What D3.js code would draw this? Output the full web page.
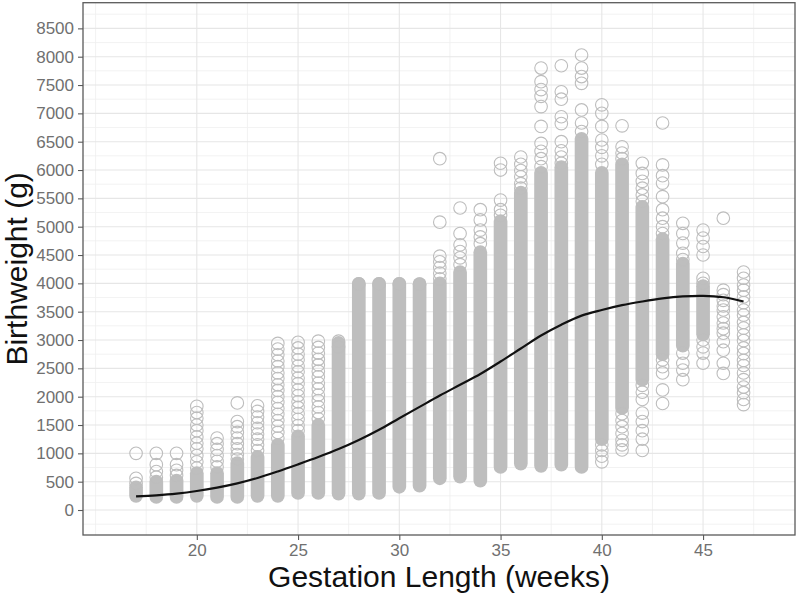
<!DOCTYPE html>
<html>
<head>
<meta charset="utf-8">
<script src="https://cdn.jsdelivr.net/npm/d3@7"></script>
<style>
    body { margin: 0; background: #fff; }
    svg { display: block; font-family: "Liberation Sans", Arial, sans-serif; }
</style>
</head>
<body>
<div id="chart"></div>
<script>
/* global d3 */

// gestation weeks on the x axis
var weeks = [17, 18, 19, 20, 21, 22, 23, 24, 25, 26, 27, 28, 29, 30, 31, 32,
    33, 34, 35, 36, 37, 38, 39, 40, 41, 42, 43, 44, 45, 46, 47];

// dense part of each column (so many points that the circles merge), grams
var bandLow = [250, 230, 230, 250, 230, 230, 250, 250, 300, 300, 290, 290, 300, 410, 430, 560,
    590, 520, 760, 820, 780, 800, 760, 1250, 1800, 2300, 2750, 2900, 3100, null, null];
var bandHigh = [400, 500, 520, 650, 650, 830, 940, 1150, 1300, 1500, 2950, 3990, 3990, 3990, 3985, 4000,
    4200, 4550, 5100, 5600, 5950, 6050, 6550, 5950, 6100, 5350, 4780, 4350, 3950, null, null];

// single circles that stand out of the dense part, grams
var outliers = [
    [1000, 560, 470],
    [1000, 800, 680, 580],
    [1000, 800, 700, 610],
    [1830, 1720, 1620, 1500, 1400, 1290, 1180, 1080, 960, 850, 740],
    [1270, 1170, 1070, 960, 860, 760],
    [1890, 1560, 1470, 1370, 1270, 1170, 1080, 980, 900],
    [1840, 1740, 1640, 1540, 1440, 1340, 1250, 1150, 1050],
    [2940, 2840, 2740, 2630, 2530, 2420, 2320, 2210, 2110, 2000, 1900, 1790, 1690, 1580, 1480, 1370, 1270],
    [2960, 2860, 2750, 2650, 2540, 2440, 2330, 2230, 2120, 2020, 1910, 1810, 1700, 1600, 1490, 1400],
    [2980, 2870, 2770, 2660, 2560, 2450, 2350, 2240, 2140, 2030, 1930, 1820, 1720, 1610],
    [2980, 2880],
    [3990],
    [3990],
    [3990],
    [3985],
    [6200, 5080, 4480, 4380, 4280, 4180, 4080],
    [5330, 4880, 4680, 4560, 4450, 4330],
    [5300, 5120, 4940, 4820, 4700],
    [6120, 6000, 5470, 5300, 5200],
    [6230, 6100, 5990, 5880, 5760, 5680],
    [7800, 7560, 7420, 7300, 7120, 6770, 6470, 6330, 6200, 6060],
    [7840, 7380, 7250, 6940, 6820, 6500, 6340, 6230, 6120],
    [8030, 7800, 7650, 7530, 7060, 6830, 6680],
    [7150, 7000, 6770, 6530, 6400, 6250, 6100, 1150, 1050, 950, 850],
    [6780, 6410, 6300, 6200, 1700, 1580, 1470, 1350, 1230, 1150, 1060],
    [6120, 5940, 5800, 5680, 5560, 5450, 2200, 2080, 1950, 1710, 1560, 1400, 1250, 1050],
    [6830, 6090, 5900, 5770, 5530, 5300, 5150, 5000, 4880, 2650, 2530, 2420, 2120, 1880],
    [5060, 4880, 4710, 4530, 4420, 2770, 2590, 2470, 2300],
    [4940, 4800, 4650, 4500, 4090, 4000, 3000, 2880, 2770, 2590],
    [5150, 3880, 3800, 3700, 3600, 3530, 3410, 3300, 3200, 3120, 2970, 2820, 2590, 2410],
    [4200, 4090, 3970, 3880, 3760, 3660, 3530, 3440, 3310, 3210, 3090, 2990, 2860, 2760, 2640,
        2550, 2420, 2300, 2170, 2070, 1950, 1860]
];

// smoothed mean birthweight per week (black line)
var fitWeight = [240, 260, 290, 335, 395, 470, 565, 680, 805, 935, 1075, 1235, 1415, 1620, 1820, 2020,
    2210, 2400, 2620, 2850, 3080, 3270, 3430, 3530, 3615, 3680, 3735, 3770, 3780, 3755, 3680];

var xTicks = [20, 25, 30, 35, 40, 45];
var yTicks = d3.range(0, 8501, 500);

var width = 800;
var height = 598;
var panel = {left: 83, right: 795, top: 2.7, bottom: 535};
var r = 6.3;

var svg = d3.select("#chart")
    .append("svg")
    .attr("width", width)
    .attr("height", height);

var x = d3.scaleLinear()
    .domain([14.38, 49.54])
    .range([panel.left, panel.right]);

var y = d3.scaleLinear()
    .domain([-441, 8953])
    .range([panel.bottom, panel.top]);

// grid, minor first then major
var xMinor = [15, 17.5, 22.5, 27.5, 32.5, 37.5, 42.5, 47.5];
var yMinor = d3.range(-250, 8800, 500);

var grid = svg.append("g").attr("class", "grid");

grid.selectAll(".vminor")
    .data(xMinor)
    .enter().append("line")
    .attr("x1", d => x(d)).attr("x2", d => x(d))
    .attr("y1", panel.top).attr("y2", panel.bottom)
    .attr("stroke", "#efefef")
    .attr("stroke-width", 0.8);

grid.selectAll(".hminor")
    .data(yMinor)
    .enter().append("line")
    .attr("x1", panel.left).attr("x2", panel.right)
    .attr("y1", d => y(d)).attr("y2", d => y(d))
    .attr("stroke", "#efefef")
    .attr("stroke-width", 0.8);

grid.selectAll(".vmajor")
    .data(xTicks)
    .enter().append("line")
    .attr("x1", d => x(d)).attr("x2", d => x(d))
    .attr("y1", panel.top).attr("y2", panel.bottom)
    .attr("stroke", "#e6e6e6")
    .attr("stroke-width", 1.1);

grid.selectAll(".hmajor")
    .data(yTicks)
    .enter().append("line")
    .attr("x1", panel.left).attr("x2", panel.right)
    .attr("y1", d => y(d)).attr("y2", d => y(d))
    .attr("stroke", "#e6e6e6")
    .attr("stroke-width", 1.1);

// dense columns
var bands = weeks.map((w, i) => ({week: w, lo: bandLow[i], hi: bandHigh[i]}))
    .filter(d => d.lo !== null);

svg.append("g")
    .selectAll("rect")
    .data(bands)
    .enter().append("rect")
    .attr("x", d => x(d.week) - r - 0.55)
    .attr("width", 2 * r + 1.1)
    .attr("y", d => y(d.hi) - r - 0.55)
    .attr("height", d => y(d.lo) - y(d.hi) + 2 * r + 1.1)
    .attr("rx", r + 0.55)
    .attr("fill", "#bebebe");

// separate open circles
var points = [];
weeks.forEach((w, i) => {
    outliers[i].forEach(v => points.push({week: w, value: v}));
});

svg.append("g")
    .selectAll("circle")
    .data(points)
    .enter().append("circle")
    .attr("cx", d => x(d.week))
    .attr("cy", d => y(d.value))
    .attr("r", r)
    .attr("fill", "none")
    .attr("stroke", "#bdbdbd")
    .attr("stroke-width", 1.1);

// smooth line
var line = d3.line()
    .x((d, i) => x(weeks[i]))
    .y(d => y(d))
    .curve(d3.curveCatmullRom);

svg.append("path")
    .datum(fitWeight)
    .attr("d", line)
    .attr("fill", "none")
    .attr("stroke", "#111")
    .attr("stroke-width", 2.2);

// panel border
svg.append("rect")
    .attr("x", panel.left)
    .attr("y", panel.top)
    .attr("width", panel.right - panel.left)
    .attr("height", panel.bottom - panel.top)
    .attr("fill", "none")
    .attr("stroke", "#5a5a5a")
    .attr("stroke-width", 1.3);

// axes
var xAxis = svg.append("g")
    .attr("transform", `translate(0,${panel.bottom})`)
    .call(d3.axisBottom(x).tickValues(xTicks).tickSize(5).tickPadding(4));

var yAxis = svg.append("g")
    .attr("transform", `translate(${panel.left},0)`)
    .call(d3.axisLeft(y).tickValues(yTicks).tickFormat(d3.format("d")).tickSize(5).tickPadding(4));

[xAxis, yAxis].forEach(a => {
    a.select(".domain").remove();
    a.selectAll(".tick line").attr("stroke", "#5a5a5a").attr("stroke-width", 1.1);
    a.selectAll(".tick text")
        .attr("fill", "#707070")
        .style("font-size", "17px")
        .style("font-family", "'Liberation Sans', Arial, sans-serif");
});

// titles
svg.append("text")
    .attr("x", (panel.left + panel.right) / 2)
    .attr("y", 587)
    .attr("text-anchor", "middle")
    .style("font-size", "30px")
    .attr("fill", "#111")
    .text("Gestation Length (weeks)");

svg.append("text")
    .attr("transform", `translate(27,${(panel.top + panel.bottom) / 2}) rotate(-90)`)
    .attr("text-anchor", "middle")
    .style("font-size", "30px")
    .attr("fill", "#111")
    .text("Birthweight (g)");
</script>
</body>
</html>
